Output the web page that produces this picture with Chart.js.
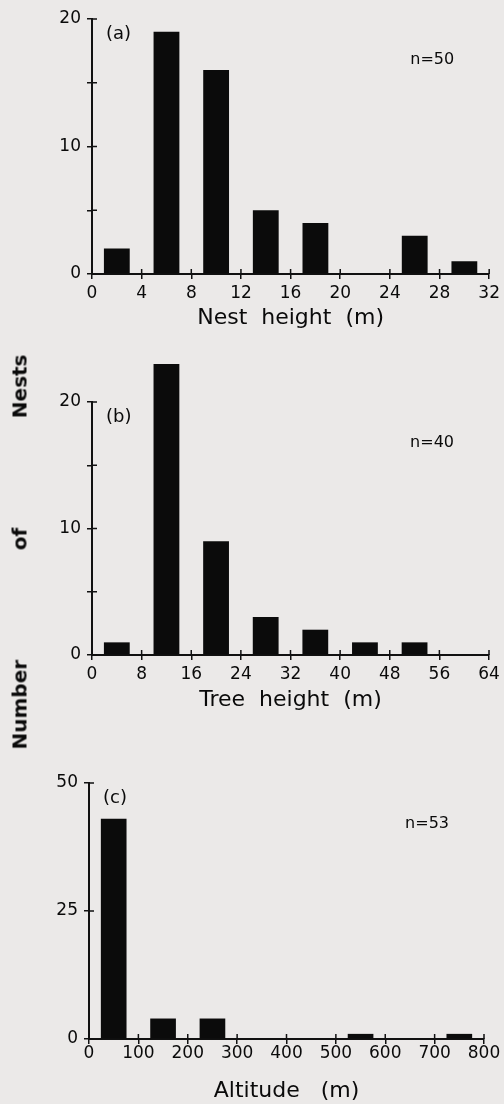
<!DOCTYPE html>
<html>
<head>
<meta charset="utf-8">
<script src="https://cdn.jsdelivr.net/npm/chart.js@4.4.1/dist/chart.umd.min.js"></script>
<style>
  html, body { margin: 0; padding: 0; background: #ebe9e8; }
  body { width: 504px; height: 1104px; position: relative; overflow: hidden; font-family: "DejaVu Sans", sans-serif; }
  .panel { position: absolute; left: 0; width: 504px; }
  #yTitle {
    position: absolute; width: 395px; height: 26px; left: -178px; top: 539px;
    transform: rotate(-90deg); display: flex; justify-content: space-between; align-items: center;
    font-weight: bold; font-size: 20px; color: #0a0a0a;
  }
</style>
</head>
<body>
<div class="panel" style="top:0;height:335px"><canvas id="chartA"></canvas></div>
<div class="panel" style="top:335px;height:381px"><canvas id="chartB"></canvas></div>
<div class="panel" style="top:716px;height:388px"><canvas id="chartC"></canvas></div>
<div id="yTitle"><span>Number</span><span>of</span><span>Nests</span></div>

<script>
// data (bin midpoints and counts)
const nestHeightBins = [2, 6, 10, 14, 18, 22, 26, 30];
const nestCounts = [2, 19, 16, 5, 4, 0, 3, 1];
const nestTicks = [0, 4, 8, 12, 16, 20, 24, 28, 32];

const treeHeightBins = [4, 12, 20, 28, 36, 44, 52, 60];
const treeCounts = [1, 23, 9, 3, 2, 1, 1, 0];
const treeTicks = [0, 8, 16, 24, 32, 40, 48, 56, 64];

const altitudeBins = [50, 150, 250, 350, 450, 550, 650, 750];
const altitudeCounts = [43, 4, 4, 0, 0, 1, 0, 1];
const altitudeTicks = [0, 100, 200, 300, 400, 500, 600, 700, 800];

const countTicksAB = [0, 5, 10, 15, 20];
const countLabelsAB = [0, 10, 20];
const countTicksC = [0, 25, 50];

Chart.defaults.font.family = "'DejaVu Sans', sans-serif";
Chart.defaults.color = '#0a0a0a';

// inner half of the tick marks + panel letters and n=
const panelMarks = {
  id: 'panelMarks',
  afterDatasetsDraw(chart, args, opts) {
    const {ctx, chartArea, scales} = chart;
    ctx.save();
    ctx.strokeStyle = '#111';
    ctx.lineWidth = 1.5;
    ctx.beginPath();
    scales.x.ticks.forEach(t => {
      const px = scales.x.getPixelForValue(t.value);
      ctx.moveTo(px, chartArea.bottom);
      ctx.lineTo(px, chartArea.bottom - 5);
    });
    scales.y.ticks.forEach(t => {
      const py = scales.y.getPixelForValue(t.value);
      ctx.moveTo(chartArea.left, py);
      ctx.lineTo(chartArea.left + 5, py);
    });
    ctx.stroke();
    ctx.fillStyle = '#0a0a0a';
    ctx.textBaseline = 'middle';
    ctx.font = '18px "DejaVu Sans"';
    ctx.textAlign = 'left';
    ctx.fillText(opts.label, chartArea.left + 14, chartArea.top + 15);
    ctx.font = '16px "DejaVu Sans"';
    ctx.textAlign = 'right';
    ctx.fillText(opts.n, chartArea.right - 35, chartArea.top + 41);
    ctx.restore();
  }
};

function histogram(id, cfg) {
  const ctx = document.getElementById(id).getContext('2d');
  return new Chart(ctx, {
    type: 'bar',
    data: {
      datasets: [{
        data: cfg.bins.map((b, i) => ({x: b, y: cfg.counts[i]})),
        backgroundColor: '#0b0b0b',
        borderWidth: 0,
        barPercentage: 1,
        categoryPercentage: 0.52,
        clip: false
      }]
    },
    plugins: [panelMarks],
    options: {
      responsive: true,
      maintainAspectRatio: false,
      animation: false,
      layout: {padding: {top: cfg.padTop, right: cfg.padRight, left: 0, bottom: 0}},
      plugins: {
        legend: {display: false},
        tooltip: {enabled: false},
        panelMarks: {label: cfg.label, n: cfg.n}
      },
      scales: {
        x: {
          type: 'linear',
          offset: false,
          min: cfg.xTicks[0],
          max: cfg.xTicks[cfg.xTicks.length - 1],
          afterBuildTicks: s => { s.ticks = cfg.xTicks.map(v => ({value: v})); },
          afterFit: s => { s.height = cfg.xHeight; },
          grid: {offset: false, drawOnChartArea: false, tickLength: 5, color: '#111', lineWidth: 1.5},
          border: {color: '#111', width: 2},
          ticks: {font: {size: 17}, padding: cfg.xPad, maxRotation: 0, autoSkip: false, color: '#0a0a0a'},
          title: {display: true, text: cfg.xTitle, font: {size: 22}, color: '#0a0a0a', padding: {top: 0, bottom: cfg.titlePad}}
        },
        y: {
          min: 0,
          max: cfg.yTicks[cfg.yTicks.length - 1],
          afterBuildTicks: s => { s.ticks = cfg.yTicks.map(v => ({value: v})); },
          afterFit: s => { s.width = cfg.yWidth; },
          grid: {drawOnChartArea: false, tickLength: 5, color: '#111', lineWidth: 1.5},
          border: {color: '#111', width: 2},
          ticks: {
            font: {size: 17}, padding: 6, color: '#0a0a0a',
            callback: v => cfg.yLabels.includes(v) ? String(v) : ''
          }
        }
      }
    }
  });
}

histogram('chartA', {
  bins: nestHeightBins, counts: nestCounts, xTicks: nestTicks,
  yTicks: countTicksAB, yLabels: countLabelsAB,
  xTitle: 'Nest  height  (m)', label: '(a)', n: 'n=50',
  padTop: 19, padRight: 12, yWidth: 92, xHeight: 61, xPad: 4, titlePad: 4
});

histogram('chartB', {
  bins: treeHeightBins, counts: treeCounts, xTicks: treeTicks,
  yTicks: countTicksAB, yLabels: countLabelsAB,
  xTitle: 'Tree  height  (m)', label: '(b)', n: 'n=40',
  padTop: 67, padRight: 15, yWidth: 92, xHeight: 61, xPad: 4, titlePad: 3
});

histogram('chartC', {
  bins: altitudeBins, counts: altitudeCounts, xTicks: altitudeTicks,
  yTicks: countTicksC, yLabels: countTicksC,
  xTitle: 'Altitude   (m)', label: '(c)', n: 'n=53',
  padTop: 67, padRight: 20, yWidth: 89, xHeight: 65, xPad: -1, titlePad: 0
});
</script>
</body>
</html>
